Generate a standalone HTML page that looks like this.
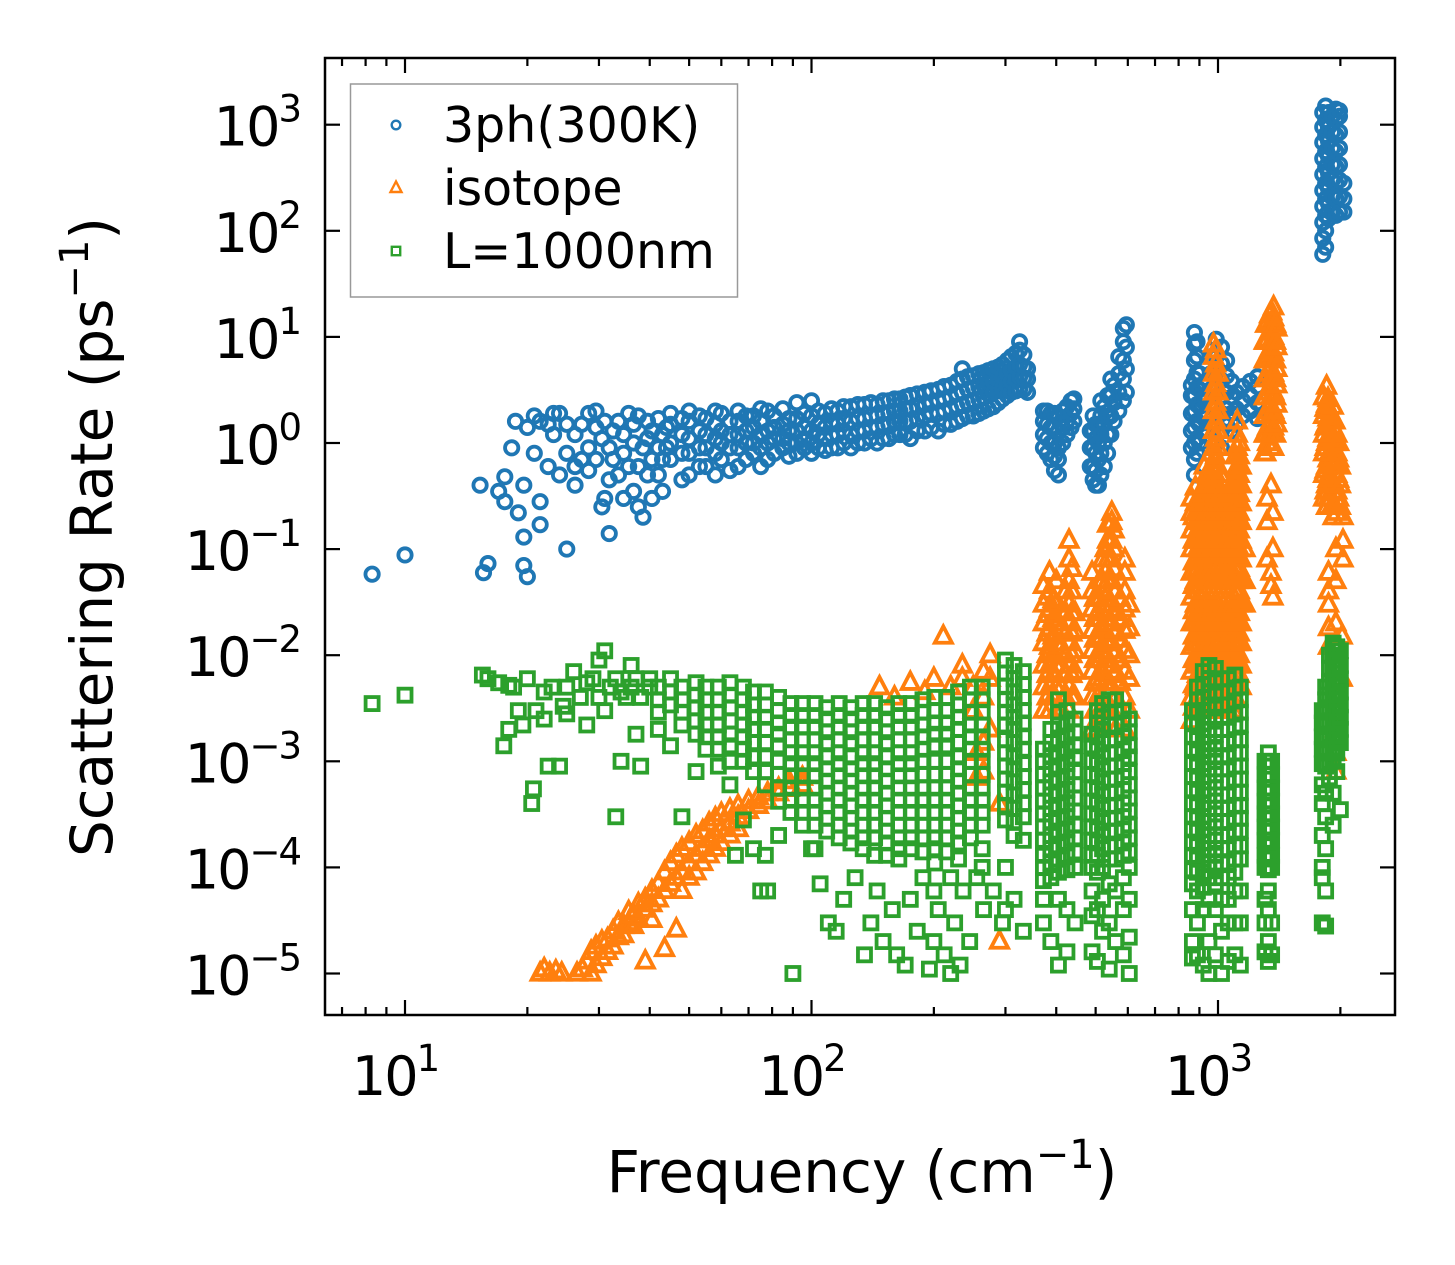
<!DOCTYPE html>
<html><head><meta charset="utf-8"><style>
html,body{margin:0;padding:0;background:#fff;}
svg{display:block;font-family:"DejaVu Sans","Liberation Sans",sans-serif;}
</style></head><body>
<svg id="chart" width="1455" height="1265" viewBox="0 0 1455 1265" xmlns="http://www.w3.org/2000/svg">
<rect x="0" y="0" width="1455" height="1265" fill="#fff"/>
<g id="plot"></g>
<g id="axes"></g>
</svg>
<script>
// ---- data (frequency cm^-1, lists of scattering rates ps^-1) ----
const threePhCols = [
[8.3,[0.058]],[10,[0.088]],[15.3,[0.4]],[15.6,[0.06]],[16,[0.073]],[17,[0.35]],[17.6,[0.28,0.48]],[18.3,[0.9]],[18.7,[1.6]],[19,[0.22]],[19.6,[0.13,0.4,0.07]],[20,[0.055,1.4]],[20.8,[0.8,1.8]],[21.5,[0.17,0.28,1.6]],[22.5,[1.5,0.6]],[23.2,[1.9,1.2]],[24,[0.5,1.9]],[25,[0.1,0.8,1.5]],[26.2,[1.2,0.6,0.4]],[27.2,[1.5,0.7]],[28.3,[1.9,0.9,0.55]],[29.5,[1.4,0.7,2.0]],[30.5,[0.25,1.1]],[31,[0.3,1.6]],[31.8,[0.9,0.14,0.45]],[32.5,[0.7,1.3]],[33.5,[1.6,0.5]],[34.5,[1.2,0.8,0.3]],[35.5,[1.9,0.6]],[36.5,[0.35,1.0,1.5]],[37.5,[0.6,0.25,1.8]],[38.5,[0.2,0.9]],[39.5,[1.1,0.5,1.6]],[40.5,[0.7,0.3,1.3]],[42,[1.7,0.5,0.9]],[43,[0.7,1.2,0.35]],[44,[1.4,0.9]],
[45,[0.7,1.0,1.5,1.9]],[48,[0.45,0.8,1.2,1.7]],[50,[0.5,0.8,1.1,1.6,2.0]],[53,[0.6,0.9,1.3,1.8]],[55,[0.6,0.9,1.2,1.7]],[58,[0.5,0.8,1.1,1.5,2.0]],[60,[0.7,1.0,1.3,1.9]],[63,[0.55,0.9,1.2,1.6]],[66,[0.6,0.9,1.2,1.6,2.0]],[69,[0.7,1.0,1.3,1.8]],[72,[0.8,1.0,1.4,1.8]],[75,[0.6,0.9,1.2,1.6,2.1]],[78,[0.7,1.0,1.3,2.0]],[81,[0.8,1.1,1.4,1.8]],[85,[0.9,1.1,1.5,2.1]],[88,[0.75,1.0,1.3,1.7]],[92,[0.8,1.0,1.3,1.7,2.4]],[96,[0.9,1.1,1.4,1.9]],[100,[0.8,1.0,1.3,1.8,2.5]],[104,[0.9,1.2,1.5,2.0]],[108,[0.85,1.1,1.4,1.9]],[112,[0.9,1.2,1.6,2.1]],[116,[0.9,1.2,1.5,2.0]],[120,[1.0,1.3,1.7,2.2]],[125,[0.9,1.2,1.6,2.2]],[130,[1.0,1.3,1.7,2.3]],[135,[1.0,1.3,1.7,2.3]],[140,[1.1,1.4,1.8,2.4]],[145,[1.0,1.4,1.8,2.3]],[150,[1.1,1.5,1.9,2.5]],[155,[1.1,1.5,1.9,2.5]],[160,[1.2,1.6,2.0,2.6]],[165,[1.2,1.6,2.0,2.6]],[170,[1.2,1.6,2.1,2.7]],[175,[1.1,1.6,2.1,2.8]],[182,[1.3,1.7,2.2,2.9]],[190,[1.3,1.8,2.3,3.0]],[197,[1.4,1.9,2.4,3.1]],[205,[1.3,1.9,2.5,3.2]],[212,[1.5,2.0,2.6,3.4]],[220,[1.5,2.1,2.7,3.5]],[228,[1.6,2.2,2.9,3.8]],[235,[1.7,2.3,3.0,4.0,5.0]],[242,[1.8,2.4,3.2,4.2]],[250,[1.8,2.5,3.3,4.3]],[258,[1.9,2.6,3.4,4.5]],[265,[2.0,2.7,3.5,4.6]],[272,[2.1,2.9,3.7,4.8]],[280,[2.2,3.0,3.8,5.0]],[288,[2.4,3.1,4.0,5.2]],[295,[2.6,3.3,4.2,5.5]],[303,[2.8,3.5,4.5,6.0]],[310,[3.0,3.8,4.8,6.5]],[318,[3.1,4.0,5.2,7.0]],[325,[3.2,4.2,5.5,7.5,9.0]],[333,[3.2,4.1,5.2,6.8]],[340,[3.0,4.0,5.0]],
[372,[0.9,1.2,1.6,2.0]],[380,[0.8,1.1,1.5,2.0]],[388,[0.7,1.0,1.4,1.9]],[396,[0.55,0.75,1.0,1.4,1.9]],[405,[0.5,0.7,0.9,1.3,1.8]],[415,[1.0,1.4,2.0]],[425,[1.2,1.6,2.2]],[435,[1.4,1.9,2.5]],[442,[1.6,2.1,2.6]],
[485,[0.6,0.9,1.3]],[493,[0.45,0.6,0.9,1.3,1.8]],[500,[0.4,0.55,0.8,1.1,1.5]],[508,[0.4,0.7,1.0,1.5]],[515,[0.5,0.8,1.2,1.8,2.5]],[525,[0.6,1.0,1.5,2.2]],[535,[0.8,1.2,1.8,2.8]],[545,[1.2,1.8,2.8,4.0]],[555,[1.6,2.4,3.5]],[570,[2.0,3.0,4.5,6.5]],[585,[2.5,4.0,6.0,9.0,12]],[595,[3.0,5.0,8.0,13]],
[860,[0.9,1.3,1.9,2.8,3.5]],[875,[0.5,0.7,1.0,1.4,2.0,2.8,4,6,8.5,11]],[888,[0.8,1.1,1.6,2.3,3.3,4.6,6.5,9]],[900,[1.0,1.5,2.2,3.2,4.5]],[930,[1.3,1.8,2.6,3.6]],[960,[1.5,2.2,3.2,4.5,6.5]],[990,[1.0,1.5,2.2,3.2,4.6,6.5,9.5]],[1020,[0.9,1.3,1.9,2.7,3.9,5.6,8]],[1050,[1.5,2.1,3.0,4.3,6]],[1080,[1.3,1.9,2.7,3.8]],[1110,[1.5,2.1,3.0]],[1150,[1.8,2.5,3.4]],[1200,[2.0,2.8,3.8]],[1250,[1.7,2.4,3.4,4.2]],
[1810,[60,85,120,170,240,340,480,680,950,1300]],[1840,[70,100,140,200,280,400,560,800,1100,1500]],[1870,[130,180,250,350,500,700,950,1300]],[1910,[150,210,300,420,600,850,1200]],[1950,[140,200,280,400,560,800,1100,1400]],[1990,[150,210,300,420,600,850,1200,1350]],[2040,[150,200,280]]
];
const isotopeCols = [
[21.5,[1e-5]],[22,[1.1e-5]],[22.7,[1e-5]],[23.5,[1.05e-5]],[24.3,[1e-5]],[26.5,[1e-5]],[27.3,[1.1e-5]],[28,[1.3e-5]],[28.7,[1.6e-5,1e-5]],[29.5,[1.8e-5,1.2e-5]],[30.5,[1.4e-5,2e-5]],[31.5,[2.1e-5,1.6e-5]],[32.5,[2.5e-5,1.8e-5]],[33.5,[2.2e-5,3e-5]],[34.5,[2.8e-5,2.3e-5]],[35.5,[3e-5,3.8e-5]],[36.5,[3.5e-5,2.8e-5]],[37.5,[3.3e-5,4.5e-5]],[39,[4e-5,5e-5,1.3e-5]],[40.5,[4.5e-5,6e-5,3.2e-5]],[42,[5e-5,7e-5]],[43.5,[6e-5,9e-5,1.7e-5]],[45,[7e-5,1.1e-4]],[46.5,[8e-5,1.3e-4,2.6e-5]],[48,[9e-5,1.5e-4,6e-5]],[50,[1.1e-4,1.7e-4,8e-5]],[52,[1.3e-4,2e-4,9e-5]],[54,[1.5e-4,2.2e-4,1.1e-4]],[56,[1.8e-4,2.6e-4,1.3e-4]],[58,[2e-4,2.9e-4,1.5e-4]],[60,[2.3e-4,3.2e-4,1.7e-4]],[63,[2.6e-4,3.5e-4,2e-4]],[66,[3e-4,3.8e-4,2.3e-4]],[70,[3.4e-4,4.2e-4]],[74,[3.8e-4,4.6e-4]],[78,[4.2e-4,5e-4]],[83,[5e-4,5.5e-4]],[88,[5.5e-4,6.5e-4]],[95,[6e-4,7e-4]],
[147,[5e-3]],[160,[4e-3]],[175,[5.5e-3]],[190,[4.5e-3]],[200,[6e-3]],[211,[1.5e-2]],[220,[5e-3]],[235,[6e-3,8e-3]],[250,[5e-3,3e-3]],[265,[7e-3,4e-3,1.5e-3,8e-4]],[275,[1e-2,6e-3,2e-3]],[290,[2e-5,4e-4]],[255,[1.2e-3,7e-4]],
[372,[3e-3,5e-3,8e-3,1.3e-2,2e-2,3e-2,4.5e-2]],[380,[4e-3,6.5e-3,1e-2,1.6e-2,2.4e-2,3.5e-2]],[385,[3e-3,5e-3,8e-3,1.2e-2,1.8e-2,2.7e-2,4e-2,6e-2]],[393,[4e-3,6.5e-3,1e-2,1.5e-2,2.2e-2,3.3e-2]],[400,[3e-3,5e-3,8e-3,1.3e-2,2e-2,3e-2,5e-2]],[412,[3e-3,5e-3,8e-3,1.2e-2,1.8e-2,2.6e-2]],[422,[4e-3,6.5e-3,1e-2,1.6e-2,2.5e-2,4e-2]],[430,[3e-3,5e-3,8e-3,1.3e-2,2e-2,3e-2,5e-2,8e-2,1.2e-1]],[437,[4e-3,6.5e-3,1e-2,1.6e-2,2.5e-2,4e-2,6.5e-2]],[445,[4e-3,7e-3,1.1e-2,1.7e-2,2.5e-2]],
[490,[2e-3,4e-3,7e-3,1.1e-2,1.7e-2,2.7e-2,4e-2,6e-2]],[497,[3e-3,5.5e-3,9e-3,1.4e-2,2.2e-2,3.4e-2]],[505,[2e-3,4e-3,6e-3,1e-2,1.5e-2,2.5e-2,3.5e-2]],[512,[3e-3,5.5e-3,9e-3,1.4e-2,2.2e-2,3.4e-2,5e-2]],[520,[2e-3,4e-3,7e-3,1.1e-2,1.8e-2,3e-2,5e-2,8e-2]],[528,[3e-3,5.5e-3,9e-3,1.4e-2,2.2e-2,3.4e-2,6e-2,0.1]],[535,[3e-3,5e-3,8e-3,1.3e-2,2e-2,3e-2,5e-2,8e-2,0.12,0.17]],[548,[3e-3,5e-3,8e-3,1.3e-2,2e-2,3e-2,5e-2,8e-2,0.12,0.18,0.22]],[555,[4e-3,6.5e-3,1e-2,1.6e-2,2.5e-2,4e-2,6.5e-2,0.1,0.15]],[560,[2e-3,4e-3,7e-3,1.1e-2,1.7e-2,2.7e-2,4e-2]],[575,[3e-3,5.5e-3,9e-3,1.4e-2,2.2e-2,3.4e-2]],[590,[2e-3,4e-3,7e-3,1.1e-2,1.7e-2,2.7e-2,4e-2,6e-2,8e-2]],[605,[3e-3,6e-3,1e-2,1.8e-2,3e-2]],
[860,[2.4e-3,4e-3,7e-3,1.2e-2,2e-2,3.5e-2,6e-2,0.1,0.15,0.22,0.3]],[870,[3.2e-3,5.2e-3,9e-3,1.5e-2,2.6e-2,4.5e-2,7.5e-2,0.12,0.2]],[880,[3e-3,5e-3,8e-3,1.3e-2,2e-2,3e-2,5e-2,8e-2,0.12,0.18,0.27,0.38]],[890,[4e-3,6.5e-3,1e-2,1.6e-2,2.5e-2,4e-2,6.5e-2,0.1,0.15,0.22]],[900,[3e-3,5e-3,8e-3,1.3e-2,2e-2,3e-2,5e-2,8e-2,0.12,0.18,0.27]],[912,[4e-3,6.5e-3,1e-2,1.6e-2,2.5e-2,4e-2,6.5e-2,0.1,0.15,0.22,0.33]],[925,[3e-3,5e-3,8e-3,1.3e-2,2e-2,3e-2,5e-2,8e-2,0.12,0.18,0.27,0.4,0.6]],[937,[4e-3,6.5e-3,1e-2,1.6e-2,2.5e-2,4e-2,6.5e-2,0.1,0.15,0.22,0.33,0.5]],[950,[3e-3,5e-3,8e-3,1.3e-2,2e-2,3e-2,5e-2,8e-2,0.12,0.18,0.27,0.4]],[962,[4e-3,6.5e-3,1e-2,1.6e-2,2.5e-2,4e-2,6.5e-2,0.1,0.15,0.22,0.33,0.5,0.8]],[975,[3e-3,5e-3,8e-3,1.3e-2,2e-2,3e-2,5e-2,8e-2,0.12,0.18,0.27,0.4,0.6,0.9,1.3,2,3,4.5,6.5,8.5]],[987,[4e-3,6.5e-3,1e-2,1.6e-2,2.5e-2,4e-2,6.5e-2,0.1,0.15,0.22,0.33,0.5,0.75,1.1,1.6,2.4,3.6,5.5,7.5]],[1000,[3e-3,5e-3,8e-3,1.3e-2,2e-2,3e-2,5e-2,8e-2,0.12,0.18,0.27,0.4,0.6,0.9,1.3,2,3,4.5]],[1015,[4e-3,6.5e-3,1e-2,1.6e-2,2.5e-2,4e-2,6.5e-2,0.1,0.15,0.22,0.33,0.5]],[1030,[3e-3,5e-3,8e-3,1.3e-2,2e-2,3e-2,5e-2,8e-2,0.12,0.18,0.27]],[1045,[4e-3,6.5e-3,1e-2,1.6e-2,2.5e-2,4e-2,6.5e-2,0.1,0.15,0.22]],[1060,[3e-3,5e-3,8e-3,1.3e-2,2e-2,3e-2,5e-2,8e-2,0.12,0.18,0.27,0.35]],[1075,[4e-3,6.5e-3,1e-2,1.6e-2,2.5e-2,4e-2,6.5e-2,0.1,0.15,0.22,0.33]],[1090,[3e-3,5e-3,8e-3,1.3e-2,2e-2,3e-2,5e-2,8e-2,0.12,0.18,0.27,0.4]],[1103,[4e-3,6.5e-3,1e-2,1.6e-2,2.5e-2,4e-2,6.5e-2,0.1,0.15,0.22,0.33,0.5,0.75]],[1115,[5e-3,8e-3,1.3e-2,2e-2,3e-2,5e-2,8e-2,0.12,0.18,0.27,0.4,0.6,0.9,1.2,1.6]],[1128,[6.5e-3,1e-2,1.6e-2,2.5e-2,4e-2,6.5e-2,0.1,0.15,0.22,0.33,0.5,0.75,1]],[1140,[5e-3,8e-3,1.3e-2,2e-2,3e-2,5e-2,8e-2,0.12,0.18,0.27,0.4,0.6]],[1165,[0.03,0.05,0.1]],
[1300,[0.8,1.2,1.8,2.7,4,6,9]],[1310,[0.8,1.2,1.8,2.7,4,6,9,13]],[1325,[1,1.4,2,3,4.5,6.5,9.5,14]],[1340,[1,1.5,2.2,3.3,5,7.5,11,16]],[1355,[0.9,1.3,1.9,2.8,4.2,6.2,9,13,17]],[1370,[0.9,1.4,2,3,4.5,7,10,15,19]],[1385,[1.2,1.8,2.7,4,6,9,13]],[1395,[1.5,2.3,3.5,5,8,12]],[1320,[0.3,0.18,0.08]],[1350,[0.4,0.06,0.045]],[1365,[0.22,0.1,0.035]],
[1820,[0.3,0.5,0.8,1.2,1.8,2.7]],[1835,[0.35,0.55,0.9,1.4,2.1]],[1850,[0.25,0.4,0.6,1,1.5,2.3,3.4]],[1865,[0.3,0.45,0.7,1.1,1.7,2.6]],[1880,[0.3,0.5,0.8,1.2,2]],[1900,[0.25,0.4,0.65,1,1.6]],[1920,[0.2,0.35,0.6,0.9,1.4,2.2]],[1940,[0.25,0.4,0.65,1,1.6]],[1960,[0.22,0.35,0.5,0.8,1.2]],[1980,[0.3,0.45,0.7,1]],[2000,[0.25,0.4,0.6]],[2030,[0.2,0.12,0.08]],[1870,[0.06,0.04,0.03,0.018,0.012]],[1950,[0.1,0.05,0.02,0.008,0.004,0.002,0.0012,0.0008]],[2020,[0.015,0.006]]
];
const boundaryCols = [
[8.3,[3.5e-3]],[10,[4.2e-3]],[15.5,[6.5e-3]],[16,[6e-3]],[17,[5.5e-3]],[17.5,[1.4e-3]],[18,[2e-3,5.2e-3]],[18.5,[5e-3]],[19,[3e-3]],[19.5,[2.2e-3]],[20,[6e-3]],[20.5,[4e-4]],[20.7,[5.5e-4]],[21,[3e-3]],[22,[2.5e-3,4.5e-3]],[22.5,[9e-4]],[23,[5e-3]],[24,[9e-4]],[24.5,[3.3e-3]],[25,[2.8e-3,5e-3]],[26,[7e-3]],[27,[4e-3]],[28,[2.2e-3,5.5e-3]],[29,[6e-3]],[30,[9e-3,4e-3]],[31,[1.1e-2,3e-3]],[32,[5e-3]],[33,[3e-4,6e-3]],[34,[1e-3,4.5e-3]],[35,[4e-3]],[36,[8e-3,5e-3]],[37,[6e-3,1.8e-3]],[38,[9e-4,4e-3]],[40,[5e-3,6e-3]],
[42,[5e-3,3.8e-3,2.9e-3,2e-3]],[45,[6e-3,4.5e-3,3.4e-3,1.4e-3]],[48,[5e-3,3.8e-3,2.9e-3,2.2e-3,3e-4]],[52,[5.5e-3,4.2e-3,3.2e-3,2.4e-3,1.8e-3,8e-4]],[55,[5e-3,3.8e-3,2.9e-3,2.2e-3,1.7e-3,1.3e-3]],[59,[5e-3,3.8e-3,2.9e-3,2.2e-3,1.7e-3,1.3e-3,9e-4]],[63,[5.5e-3,4.2e-3,3.2e-3,2.4e-3,1.8e-3,1.4e-3,1e-3,6e-4]],[68,[5e-3,3.8e-3,2.9e-3,2.2e-3,1.7e-3,1.3e-3,1e-3,2.8e-4]],[72,[4.5e-3,3.4e-3,2.6e-3,2e-3,1.5e-3,1.1e-3,8e-4,1.5e-4]],[77,[4.5e-3,3.4e-3,2.6e-3,2e-3,1.5e-3,1.1e-3,8e-4,6e-4,1.3e-4]],[83,[4e-3,3e-3,2.3e-3,1.8e-3,1.4e-3,1e-3,7.5e-4,5.6e-4,4.2e-4,2e-4]],
[89,[3.5e-3,2.7e-3,2.1e-3,1.6e-3,1.2e-3,9.5e-4,7.3e-4,5.6e-4,4.3e-4,3.3e-4]],[95,[3.5e-3,2.7e-3,2.1e-3,1.6e-3,1.2e-3,9.5e-4,7.3e-4,5.6e-4,4.3e-4,3.3e-4,2.5e-4]],[102,[3.5e-3,2.7e-3,2.1e-3,1.6e-3,1.2e-3,9.5e-4,7.3e-4,5.6e-4,4.3e-4,3.3e-4,2.5e-4,1.5e-4]],[109,[3.2e-3,2.5e-3,1.9e-3,1.5e-3,1.1e-3,8.5e-4,6.5e-4,5e-4,3.8e-4,2.9e-4,2.2e-4]],[117,[3.5e-3,2.7e-3,2.1e-3,1.6e-3,1.2e-3,9.5e-4,7.3e-4,5.6e-4,4.3e-4,3.3e-4,2.5e-4,1.9e-4]],[125,[3.2e-3,2.5e-3,1.9e-3,1.5e-3,1.1e-3,8.5e-4,6.5e-4,5e-4,3.8e-4,2.9e-4,2.2e-4,1.7e-4]],[134,[3.5e-3,2.7e-3,2.1e-3,1.6e-3,1.2e-3,9.5e-4,7.3e-4,5.6e-4,4.3e-4,3.3e-4,2.5e-4,1.9e-4,1.5e-4]],[143,[3.5e-3,2.7e-3,2.1e-3,1.6e-3,1.2e-3,9.5e-4,7.3e-4,5.6e-4,4.3e-4,3.3e-4,2.5e-4,1.9e-4,1.3e-4]],[153,[3.2e-3,2.5e-3,1.9e-3,1.5e-3,1.1e-3,8.5e-4,6.5e-4,5e-4,3.8e-4,2.9e-4,2.2e-4,1.7e-4,1.3e-4]],[164,[3.5e-3,2.7e-3,2.1e-3,1.6e-3,1.2e-3,9.5e-4,7.3e-4,5.6e-4,4.3e-4,3.3e-4,2.5e-4,1.9e-4,1.5e-4,1.2e-4]],[176,[3.5e-3,2.7e-3,2.1e-3,1.6e-3,1.2e-3,9.5e-4,7.3e-4,5.6e-4,4.3e-4,3.3e-4,2.5e-4,1.9e-4,1.5e-4]],[188,[3.8e-3,2.9e-3,2.2e-3,1.7e-3,1.3e-3,1e-3,7.5e-4,5.6e-4,4.3e-4,3.3e-4,2.5e-4,1.9e-4,1.4e-4]],[201,[4e-3,3e-3,2.3e-3,1.8e-3,1.4e-3,1e-3,7.5e-4,5.6e-4,4.3e-4,3.3e-4,2.5e-4,1.9e-4,1.5e-4,1.1e-4]],[215,[4e-3,3e-3,2.3e-3,1.8e-3,1.4e-3,1e-3,7.5e-4,5.6e-4,4.3e-4,3.3e-4,2.5e-4,1.9e-4,1.4e-4]],[230,[4.5e-3,3.4e-3,2.6e-3,2e-3,1.5e-3,1.1e-3,8.5e-4,6.5e-4,5e-4,3.8e-4,2.9e-4,2.2e-4,1.7e-4,1.2e-4]],[246,[5e-3,3.8e-3,2.9e-3,2.2e-3,1.7e-3,1.3e-3,1e-3,7.5e-4,5.6e-4,4.3e-4,3.3e-4,2.5e-4,1.9e-4]],[263,[5e-3,3.8e-3,2.9e-3,2.2e-3,1.7e-3,1.3e-3,1e-3,7.5e-4,5.6e-4,4.3e-4,3.3e-4,2.5e-4,1.5e-4,1e-4]],
[90,[1e-5]],[100,[1.5e-4]],[105,[7e-5]],[110,[3e-5]],[115,[2.5e-5]],[120,[5e-5]],[128,[8e-5]],[135,[1.5e-5]],[140,[3e-5]],[145,[6e-5]],[150,[2e-5]],[158,[4e-5]],[162,[1.5e-5]],[170,[1.2e-5]],[175,[5e-5]],[182,[2.5e-5]],[188,[8e-5]],[195,[1.1e-5]],[200,[2e-5,6e-5]],[205,[4e-5]],[212,[1.5e-5]],[220,[1e-5,8e-5]],[225,[3e-5]],[232,[1.2e-5]],[236,[6e-5]],[245,[2e-5]],[255,[8e-5]],[265,[4e-5]],[280,[6e-5]],[295,[3e-5]],[75,[6e-5]],[78,[6e-5]],[65,[1.3e-4]],
[300,[9e-3,6.8e-3,5.1e-3,3.8e-3,2.9e-3,2.2e-3,1.6e-3,1.2e-3,9e-4,6.8e-4,5.1e-4,3.8e-4,2.8e-4,1e-4,4e-5]],[315,[8e-3,6e-3,4.5e-3,3.4e-3,2.6e-3,2e-3,1.5e-3,1.1e-3,8.5e-4,6.4e-4,4.8e-4,3.6e-4,2.7e-4,2e-4,5e-5]],[332,[7e-3,5.3e-3,4e-3,3e-3,2.3e-3,1.7e-3,1.3e-3,9.5e-4,7.2e-4,5.4e-4,4e-4,3e-4,1.8e-4,2.5e-5]],
[372,[1.3e-3,1e-3,7.5e-4,5.6e-4,4.2e-4,3.2e-4,2.4e-4,1.8e-4,1.3e-4,1e-4,7.5e-5,5e-5,3e-5]],[388,[2e-3,1.5e-3,1.1e-3,8.5e-4,6.4e-4,4.8e-4,3.6e-4,2.7e-4,2e-4,1.5e-4,1.1e-4,8e-5,2e-5]],[405,[3.8e-3,2.9e-3,2.2e-3,1.6e-3,1.2e-3,9e-4,6.8e-4,5.1e-4,3.8e-4,2.9e-4,2.2e-4,1.6e-4,1.2e-4,9e-5,5e-5,1.2e-5]],[425,[3e-3,2.3e-3,1.7e-3,1.3e-3,9.5e-4,7.2e-4,5.4e-4,4e-4,3e-4,2.3e-4,1.7e-4,1.3e-4,9.5e-5,4e-5,1.6e-5]],[445,[2.5e-3,1.9e-3,1.4e-3,1.1e-3,8e-4,6e-4,4.5e-4,3.4e-4,2.5e-4,1.9e-4,1.4e-4,1e-4,3e-5]],
[490,[1.8e-3,1.4e-3,1e-3,7.5e-4,5.6e-4,4.2e-4,3.2e-4,2.4e-4,1.8e-4,1.3e-4,1e-4,6e-5,3.5e-5,1.6e-5]],[505,[3e-3,2.3e-3,1.7e-3,1.3e-3,9.5e-4,7.2e-4,5.4e-4,4e-4,3e-4,2.3e-4,1.7e-4,1.3e-4,9e-5,4e-5,1.3e-5]],[520,[3.5e-3,2.6e-3,2e-3,1.5e-3,1.1e-3,8.5e-4,6.4e-4,4.8e-4,3.6e-4,2.7e-4,2e-4,1.5e-4,1e-4,5e-5,2.5e-5]],[540,[3.8e-3,2.9e-3,2.2e-3,1.6e-3,1.2e-3,9e-4,6.8e-4,5.1e-4,3.8e-4,2.9e-4,2.2e-4,1.6e-4,1.2e-4,7e-5,3e-5,1.1e-5]],[560,[3.8e-3,2.9e-3,2.2e-3,1.6e-3,1.2e-3,9e-4,6.8e-4,5.1e-4,3.8e-4,2.9e-4,2.2e-4,1.6e-4,1.2e-4,6e-5,2e-5]],[585,[3e-3,2.3e-3,1.7e-3,1.3e-3,9.5e-4,7.2e-4,5.4e-4,4e-4,3e-4,2.3e-4,1.7e-4,1.3e-4,8e-5,4e-5,1.5e-5]],[605,[2.5e-3,1.9e-3,1.4e-3,1.1e-3,8e-4,6e-4,4.5e-4,3.4e-4,2.5e-4,1.9e-4,1.4e-4,1e-4,5e-5,2.2e-5,1e-5]],
[865,[3e-3,2.3e-3,1.7e-3,1.3e-3,9.5e-4,7.2e-4,5.4e-4,4e-4,3e-4,2.3e-4,1.7e-4,1.3e-4,9.5e-5,7e-5,4e-5,2e-5,1.4e-5]],[890,[5e-3,3.8e-3,2.9e-3,2.2e-3,1.6e-3,1.2e-3,9e-4,6.8e-4,5.1e-4,3.8e-4,2.9e-4,2.2e-4,1.6e-4,1.2e-4,9e-5,6e-5,3e-5,1.5e-5]],[920,[7e-3,5.3e-3,4e-3,3e-3,2.3e-3,1.7e-3,1.3e-3,9.5e-4,7.2e-4,5.4e-4,4e-4,3e-4,2.3e-4,1.7e-4,1.3e-4,9e-5,6.5e-5,4e-5,1.2e-5]],[950,[8e-3,6e-3,4.5e-3,3.4e-3,2.6e-3,2e-3,1.5e-3,1.1e-3,8.5e-4,6.4e-4,4.8e-4,3.6e-4,2.7e-4,2e-4,1.5e-4,1.1e-4,8e-5,5e-5,2e-5,1e-5]],[985,[7.5e-3,5.6e-3,4.2e-3,3.2e-3,2.4e-3,1.8e-3,1.3e-3,1e-3,7.5e-4,5.6e-4,4.2e-4,3.2e-4,2.4e-4,1.8e-4,1.3e-4,1e-4,7e-5,4e-5,1.5e-5]],[1020,[6e-3,4.5e-3,3.4e-3,2.6e-3,2e-3,1.5e-3,1.1e-3,8.5e-4,6.4e-4,4.8e-4,3.6e-4,2.7e-4,2e-4,1.5e-4,1.1e-4,8e-5,5e-5,2.5e-5,1e-5]],[1060,[6e-3,4.5e-3,3.4e-3,2.6e-3,2e-3,1.5e-3,1.1e-3,8.5e-4,6.4e-4,4.8e-4,3.6e-4,2.7e-4,2e-4,1.5e-4,1.1e-4,8e-5,5e-5,3e-5,1.3e-5]],[1100,[6.5e-3,4.9e-3,3.7e-3,2.8e-3,2.1e-3,1.6e-3,1.2e-3,9e-4,6.8e-4,5.1e-4,3.8e-4,2.9e-4,2.2e-4,1.6e-4,1.2e-4,9e-5,6e-5,3e-5,1.5e-5]],[1135,[5e-3,3.8e-3,2.9e-3,2.2e-3,1.6e-3,1.2e-3,9e-4,6.8e-4,5.1e-4,3.8e-4,2.9e-4,2.2e-4,1.6e-4,1.2e-4,6e-5,3e-5,1.2e-5]],
[1305,[1e-3,7.5e-4,5.6e-4,4.2e-4,3.2e-4,2.4e-4,1.8e-4,1.3e-4,1e-4,5e-5,3e-5,1.6e-5]],[1330,[1.2e-3,9e-4,6.8e-4,5.1e-4,3.8e-4,2.9e-4,2.2e-4,1.6e-4,1.2e-4,9.5e-5,6e-5,4e-5,2e-5,1.3e-5]],[1355,[1e-3,7.5e-4,5.6e-4,4.2e-4,3.2e-4,2.4e-4,1.8e-4,1.3e-4,1e-4,3e-5,1.5e-5]],
[1805,[3e-3,2.3e-3,1.7e-3,1.3e-3,9.5e-4,6e-4,4e-4,2e-4,1e-4,8e-5,3e-5]],[1840,[5e-3,3.8e-3,2.9e-3,2.2e-3,1.6e-3,1.2e-3,9e-4,5e-4,3e-4,1.5e-4,6e-5,2.8e-5]],[1880,[1e-2,7.5e-3,5.6e-3,4.2e-3,3.2e-3,2.4e-3,1.8e-3,1.3e-3,1e-3,7e-4]],[1920,[1.3e-2,1e-2,7.5e-3,5.6e-3,4.2e-3,3.2e-3,2.4e-3,1.8e-3,1.3e-3,1e-3,5e-4,2.5e-4]],[1960,[1.2e-2,9e-3,6.8e-3,5.1e-3,3.8e-3,2.9e-3,2.2e-3,1.6e-3,1.2e-3,8e-4]],[2000,[1.1e-2,8e-3,6e-3,4.5e-3,3.4e-3,2.6e-3,2e-3,1.5e-3,3.5e-4]]
];
const xTickValues = [10,100,1000];
const xTickExps = ["1","2","3"];
const yTickValues = [1e-5,1e-4,1e-3,1e-2,1e-1,1,10,100,1000];
const yTickExps = ["−5","−4","−3","−2","−1","0","1","2","3"];

// ---- axes ----
const L=325,R=1395,T=58,B=1015;
const X0=405, XD=406.5, Y0=443, YD=106.1;
function xs(f){return X0+XD*(Math.log10(f)-1);}
function ys(r){return Y0-YD*Math.log10(r);}
const NS="http://www.w3.org/2000/svg";
function el(tag,attrs,parent){const e=document.createElementNS(NS,tag);for(const k in attrs)e.setAttribute(k,attrs[k]);parent.appendChild(e);return e;}
const plot=document.getElementById('plot');
const axes=document.getElementById('axes');
const clip=el('clipPath',{id:'cp'},plot);el('rect',{x:L,y:T,width:R-L,height:B-T},clip);
const gB=el('g',{'clip-path':'url(#cp)'},plot);


const gO=el('g',{'clip-path':'url(#cp)'},plot);


const gG=el('g',{'clip-path':'url(#cp)'},plot);


const BLUE='#1f77b4',ORANGE='#ff7f0e',GREEN='#2ca02c';
function circ(g,x,y,k,w){const c=el('circle',{cx:x,cy:y,r:4.3*k,fill:'none',stroke:BLUE,'stroke-width':w},g);return c;}
function tri(g,x,y,k,w){const p=el('polygon',{points:`${x},${y-6.5*k} ${x-5.5*k},${y+4*k} ${x+5.5*k},${y+4*k}`,fill:'none',stroke:ORANGE,'stroke-width':w,'stroke-linejoin':'miter'},g);return p;}
function sq(g,x,y,k,w){const s=el('rect',{x:x-4.2*k,y:y-4.2*k,width:8.4*k,height:8.4*k,fill:'none',stroke:GREEN,'stroke-width':w},g);return s;}
const K=1.55, W=3.8;
threePhCols.forEach(([f,rs])=>rs.forEach(r=>circ(gB,xs(f),ys(r),K,W)));
isotopeCols.forEach(([f,rs])=>rs.forEach(r=>tri(gO,xs(f),ys(r),K,W)));
boundaryCols.forEach(([f,rs])=>rs.forEach(r=>sq(gG,xs(f),ys(r),K,W)));

// frame
const frame=el('rect',{x:L,y:T,width:R-L,height:B-T,fill:'none',stroke:'#000','stroke-width':2.5},axes);


// x ticks
for(let d=0;d<4;d++){for(let m=1;m<10;m++){const v=m*Math.pow(10,d);const x=xs(v);if(x<L+1||x>R-1)continue;const len=m===1?15:8;
 const t1=el('line',{x1:x,y1:B,x2:x,y2:B-len,stroke:'#000','stroke-width':2.2},axes);
 const t2=el('line',{x1:x,y1:T,x2:x,y2:T+len,stroke:'#000','stroke-width':2.2},axes);}}
xTickValues.forEach((v,i)=>{const t=el('text',{x:xs(v)-10,y:1095,'text-anchor':'middle','font-size':54,'letter-spacing':-2,fill:'#000'},axes);
 
 t.textContent='10';const s=el('tspan',{dy:-24,'font-size':37},t);s.textContent=xTickExps[i];});
yTickValues.forEach((v,i)=>{const y=ys(v);
 const a=el('line',{x1:L,y1:y,x2:L+15,y2:y,stroke:'#000','stroke-width':2.2},axes);
 const b=el('line',{x1:R,y1:y,x2:R-15,y2:y,stroke:'#000','stroke-width':2.2},axes);
 const t=el('text',{x:300,y:y+21,'text-anchor':'end','font-size':54,'letter-spacing':-2,fill:'#000'},axes);
 
 t.textContent='10';const s=el('tspan',{dy:-24,'font-size':37},t);s.textContent=yTickExps[i];});
// axis titles
const xt=el('text',{x:862,y:1192,'text-anchor':'middle','font-size':58,fill:'#000'},axes);

xt.appendChild(document.createTextNode('Frequency (cm'));
let s1=el('tspan',{dy:-24,'font-size':40},xt);s1.textContent='−1';
let s2=el('tspan',{dy:24},xt);s2.textContent=')';
const yt=el('text',{x:0,y:0,transform:'translate(112,537) rotate(-90)','text-anchor':'middle','font-size':58,fill:'#000'},axes);

yt.appendChild(document.createTextNode('Scattering Rate (ps'));
let s3=el('tspan',{dy:-24,'font-size':40},yt);s3.textContent='−1';
let s4=el('tspan',{dy:24},yt);s4.textContent=')';
// legend
const lg=el('g',{},axes);

el('rect',{x:350.5,y:84,width:387,height:213,fill:'#fff','fill-opacity':0.8,stroke:'#999','stroke-width':1.5},lg);
const labels=['3ph(300K)','isotope','L=1000nm'];
const markers=[circ,tri,sq];
const ly=[125,188,251];
labels.forEach((lab,i)=>{const m=markers[i](lg,396,ly[i],1,2.4);
 const t=el('text',{x:443,y:ly[i]+17,'font-size':49,fill:'#000'},lg);t.textContent=lab;});
</script>
</body></html>
